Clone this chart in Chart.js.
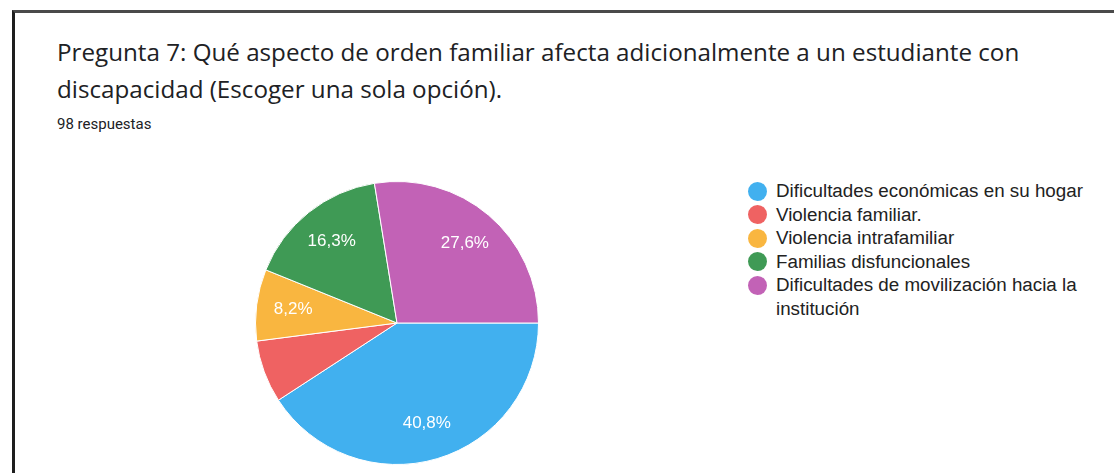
<!DOCTYPE html>
<html>
<head>
<meta charset="utf-8">
<script src="https://cdn.jsdelivr.net/npm/chart.js@4.4.1/dist/chart.umd.min.js"></script>
<style>
  body { margin: 0; background: #fff; width: 1114px; height: 473px; overflow: hidden; position: relative; }
  #frame { position: absolute; left: 12px; top: 10px; width: 1200px; height: 600px;
           border-left: 3px solid #1e1e1e; border-top: 3px solid #4a4a4a; }
  .title { position: absolute; left: 57px; font-family: "Open Sans", sans-serif; font-size: 24.2px; line-height: 30px; color: #202124; white-space: nowrap; }
  #sub { position: absolute; left: 57px; top: 115px; font-family: Roboto, sans-serif; font-size: 15px; color: #202124; }
  #chartBox { position: absolute; left: 255px; top: 181px; width: 284px; height: 284px; }
  #legend { position: absolute; left: 748px; top: 179px; font-family: "Liberation Sans", Arial, sans-serif; font-size: 18.8px; color: #222; }
  .item { position: relative; padding-left: 28px; line-height: 23.5px; width: 345px; }
  .dot { position: absolute; left: 0px; top: 2.5px; width: 19px; height: 19px; border-radius: 50%; }
</style>
</head>
<body>
<div id="frame"></div>
<div class="title" style="top:37px">Pregunta 7: Qué aspecto de orden familiar afecta adicionalmente a un estudiante con</div>
<div class="title" style="top:74px">discapacidad (Escoger una sola opción).</div>
<div id="sub">98 respuestas</div>
<div id="chartBox"><canvas id="pie"></canvas></div>
<div id="legend"></div>
<script>
const categories = [
  'Dificultades económicas en su hogar',
  'Violencia familiar.',
  'Violencia intrafamiliar',
  'Familias disfuncionales',
  'Dificultades de movilización hacia la institución'
];
const responses = [40, 7, 8, 16, 27];
const sliceColors = ['#41b0ef', '#ef6262', '#f9b640', '#3f9a55', '#c262b6'];

const total = responses.reduce((a, b) => a + b, 0);

// build the legend from the same arrays
const legend = document.getElementById('legend');
categories.forEach((name, i) => {
  const row = document.createElement('div');
  row.className = 'item';
  row.innerHTML = '<span class="dot" style="background:' + sliceColors[i] + '"></span>' + name;
  legend.appendChild(row);
});

// percent text inside slices (google hides the ones that don't fit)
const sliceText = {
  id: 'sliceText',
  afterDatasetsDraw(chart) {
    const ctx = chart.ctx;
    const meta = chart.getDatasetMeta(0);
    ctx.save();
    ctx.font = '17px "Liberation Sans", Arial, sans-serif';
    ctx.fillStyle = '#fff';
    ctx.textAlign = 'center';
    ctx.textBaseline = 'middle';
    meta.data.forEach((arc, i) => {
      const pct = responses[i] / total * 100;
      if (pct < 7.5) return;
      const p = arc.getProps(['x', 'y', 'startAngle', 'endAngle', 'outerRadius'], true);
      const mid = (p.startAngle + p.endAngle) / 2;
      const r = p.outerRadius * 0.74;
      ctx.fillText(pct.toFixed(1).replace('.', ',') + '%', p.x + Math.cos(mid) * r, p.y + Math.sin(mid) * r);
    });
    ctx.restore();
  }
};

new Chart(document.getElementById('pie'), {
  type: 'pie',
  data: {
    labels: categories,
    datasets: [{
      data: responses,
      backgroundColor: sliceColors,
      borderColor: '#fff',
      borderWidth: 1
    }]
  },
  options: {
    responsive: true,
    maintainAspectRatio: false,
    animation: false,
    rotation: 90, // first slice starts at 3 o'clock
    plugins: {
      legend: { display: false },
      tooltip: { enabled: false }
    }
  },
  plugins: [sliceText]
});
</script>
</body>
</html>
